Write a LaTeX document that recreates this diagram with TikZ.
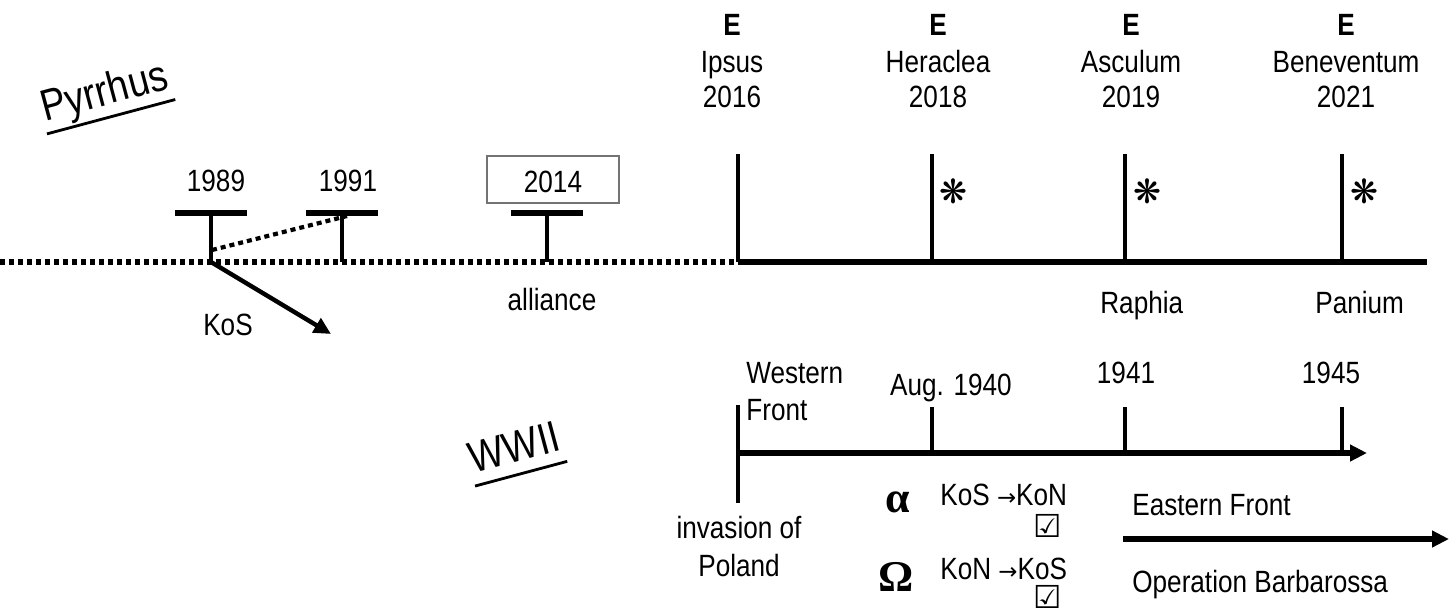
\documentclass[tikz,border=0pt]{standalone}
\usepackage{fontspec}
\setmainfont[FakeStretch=0.85]{Liberation Sans}
\newfontfamily\symfont{DejaVu Sans}
\newfontfamily\grkfont{Liberation Serif}
\usetikzlibrary{arrows.meta}
\tikzset{>={Triangle[length=0.34cm,width=0.32cm]}}
\tikzset{
  axisline/.style={line width=3.2pt},
  tickline/.style={line width=2.3pt},
  barline/.style={line width=3.2pt},
  dotline/.style={line width=3.2pt,dash pattern=on 0.1cm off 0.08cm},
  lbl/.style={anchor=base,inner sep=0pt},
  bigtitle/.style={font=\fontsize{25}{28}\selectfont,rotate=15,anchor=base,
    inner sep=1pt,text depth=0.2cm},
  starmark/.style={font=\symfont\fontsize{19}{19}\selectfont,inner sep=0pt},
  chkmark/.style={font=\symfont\fontsize{18}{18}\selectfont,inner sep=0pt},
  greek/.style={font=\grkfont\bfseries\fontsize{25}{25}\selectfont,anchor=base,inner sep=0pt}
}
\newcommand{\smallarrow}{{\symfont\fontsize{13}{13}\selectfont →}}

\begin{document}
\begin{tikzpicture}[x=0.02cm,y=-0.02cm,font=\fontsize{17.5}{21}\selectfont]
  \useasboundingbox (0,0) rectangle (1453,613);

  % titles
  \node[bigtitle] (pyr) at (108,105) {Pyrrhus};
  \draw[line width=1.6pt] (pyr.south west) -- (pyr.south east);
  \node[bigtitle] (ww) at (518,462) {WWII};
  \draw[line width=1.6pt] (ww.south west) -- (ww.south east);

  % upper timeline
  \coordinate (dotstart) at (0,262);
  \coordinate (solstart) at (738,262);
  \coordinate (solend) at (1427,262);
  \draw[dotline] (dotstart) -- (solstart);
  \draw[axisline] (solstart) -- (solend);

  \foreach \x/\nm in {211/ta,342/tb,547/tc}{
    \coordinate (\nm top) at (\x,213);
    \coordinate (\nm foot) at (\x,262);
    \draw[barline] (\x-36,213) -- (\x+36,213);
    \draw[tickline] (\nm top) -- (\nm foot);
  }
  \node[lbl] (y1989) at (216,191) {1989};
  \node[lbl] (y1991) at (348,191) {1991};
  \node[lbl,draw=black!55,line width=0.8pt,inner xsep=0pt,inner ysep=0.1cm,
    text height=0.62cm,text depth=0.12cm,minimum width=2.64cm] (y2014) at (553,192) {2014};

  \coordinate (dotfrom) at (212,250);
  \coordinate (dotto) at (347,216);
  \draw[dotline,line width=2.4pt] (dotfrom) -- (dotto);

  \coordinate (kostip) at (331,334);
  \draw[->,line width=2.5pt] (tafoot) -- (kostip);
  \node[lbl] (kos) at (228,335) {KoS};
  \node[lbl] (alliance) at (552,310) {alliance};

  % battles
  \foreach \x/\tx/\place/\yr/\nm in {738/732/Ipsus/2016/ipsus,932/938/Heraclea/2018/heraclea,
      1125/1131/Asculum/2019/asculum,1342/1346/Beneventum/2021/benev}{
    \coordinate (\nm top) at (\x,154);
    \coordinate (\nm foot) at (\x,262);
    \draw[tickline] (\nm top) -- (\nm foot);
    \node[lbl,font=\fontsize{17.5}{21}\selectfont\bfseries] (\nm e) at (\tx,35) {E};
    \node[lbl] (\nm name) at (\tx,72) {\place};
    \node[lbl] (\nm year) at (\tx,107) {\yr};
  }
  \node[starmark] (heraclea star) at (953,191) {❋};
  \node[starmark] (asculum star) at (1147,191) {❋};
  \node[starmark] (benev star) at (1364,191) {❋};
  \node[lbl,anchor=base west] (raphia) at (1100,313) {Raphia};
  \node[lbl,anchor=base west] (panium) at (1315,313) {Panium};

  % WWII timeline
  \coordinate (wstart) at (738,453);
  \coordinate (wend) at (1367,453);
  \coordinate (poltop) at (738,405);
  \coordinate (polfoot) at (738,503);
  \draw[->,axisline] (wstart) -- (wend);
  \draw[tickline] (poltop) -- (polfoot);
  \foreach \x/\nm in {932/aug,1125/ya,1342/yb}{
    \coordinate (\nm top) at (\x,407);
    \coordinate (\nm foot) at (\x,453);
    \draw[tickline] (\nm top) -- (\nm foot);
  }
  \node[lbl,anchor=base west] (western) at (746,383) {Western};
  \node[lbl,anchor=base west] (front) at (746,420) {Front};
  \node[lbl] (aug1940) at (951,395) {Aug. 1940};
  \node[lbl] (y1941) at (1126,383) {1941};
  \node[lbl] (y1945) at (1331,383) {1945};
  \node[lbl] (invasion) at (739,538) {invasion of};
  \node[lbl] (poland) at (739,576) {Poland};

  \node[greek] (alpha) at (898,512) {α};
  \node[greek] (omega) at (896,591) {Ω};
  \node[lbl,anchor=base west] (kostokon) at (940,505) {KoS \smallarrow KoN};
  \node[chkmark] (chka) at (1048,526) {☑};
  \node[lbl,anchor=base west] (kontokos) at (940,579) {KoN \smallarrow KoS};
  \node[chkmark] (chkb) at (1048,597) {☑};

  \node[lbl,anchor=base west] (eastern) at (1132,515) {Eastern Front};
  \node[lbl,anchor=base west] (barb) at (1132,592) {Operation Barbarossa};
  \coordinate (eastfrom) at (1123,539);
  \coordinate (eastto) at (1449,539);
  \draw[->,axisline] (eastfrom) -- (eastto);
\end{tikzpicture}
\end{document}
